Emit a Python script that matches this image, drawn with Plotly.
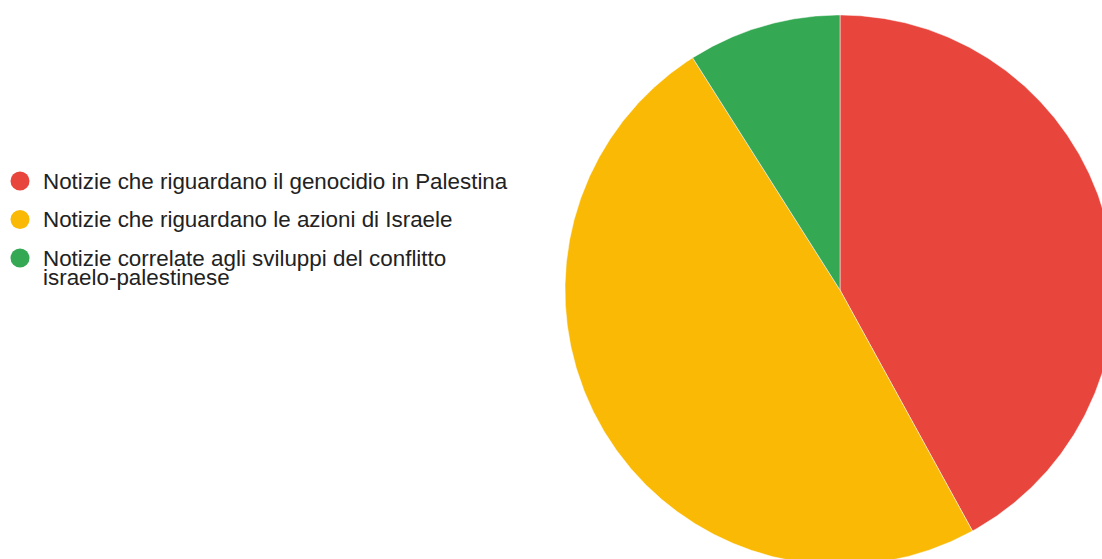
import numpy as np
import plotly.graph_objects as go

# ---- data ----
labels = [
    "Notizie che riguardano il genocidio in Palestina",
    "Notizie che riguardano le azioni di Israele",
    "Notizie correlate agli sviluppi del conflitto\nisraelo-palestinese",
]
values = [42, 49, 9]
colors = ["#e8453c", "#f9b904", "#34a853"]

# ---- layout constants (pixels) ----
W, H = 1102, 559
CX, CY, R = 840, 290, 275          # pie centre / radius in pixels
LEG_X_MARK, LEG_X_TEXT = 20, 41
LEG_Y0, LEG_STEP, LINE_H = 181, 38.5, 20
FONT = "Liberation Sans, Arial, sans-serif"
FONT_SIZE = 22.4
TEXT_COLOR = "#222222"

fig = go.Figure()

total = float(sum(values))
cum = 0.0
for lab, v, c in zip(labels, values, colors):
    a0 = cum / total * 2 * np.pi
    a1 = (cum + v) / total * 2 * np.pi
    cum += v
    t = np.linspace(a0, a1, max(int(v * 10), 30))
    x = np.concatenate([[0.0], np.sin(t), [0.0]])
    y = np.concatenate([[0.0], np.cos(t), [0.0]])
    fig.add_trace(go.Scatter(
        x=x, y=y, mode="lines", fill="toself", fillcolor=c,
        line=dict(color="rgba(255,255,255,0.7)", width=0.7),
        name=lab.replace("\n", " "),
        hoverinfo="text", text=f"{lab.replace(chr(10), ' ')}: {v}%",
        showlegend=False,
    ))

# manual legend (Google-Charts style)
shapes = []
annotations = []
for i, (lab, c) in enumerate(zip(labels, colors)):
    py = LEG_Y0 + i * LEG_STEP
    yp = 1 - py / H
    shapes.append(dict(
        type="circle", xref="paper", yref="paper",
        xsizemode="pixel", ysizemode="pixel",
        xanchor=LEG_X_MARK / W, yanchor=yp,
        x0=-9.5, x1=9.5, y0=-9.5, y1=9.5,
        fillcolor=c, line=dict(width=0),
    ))
    for j, line in enumerate(lab.split("\n")):
        annotations.append(dict(
            x=LEG_X_TEXT / W, y=1 - (py + j * LINE_H) / H,
            xref="paper", yref="paper", xanchor="left", yanchor="middle",
            text=line, showarrow=False,
            font=dict(family=FONT, size=FONT_SIZE, color=TEXT_COLOR),
        ))

fig.update_layout(
    width=W, height=H,
    margin=dict(l=0, r=0, t=0, b=0),
    paper_bgcolor="white", plot_bgcolor="white",
    xaxis=dict(range=[-CX / R, (W - CX) / R], visible=False, fixedrange=True),
    yaxis=dict(range=[-(H - CY) / R, CY / R], visible=False, fixedrange=True),
    shapes=shapes, annotations=annotations,
    showlegend=False,
)

fig.write_html("out.html")
